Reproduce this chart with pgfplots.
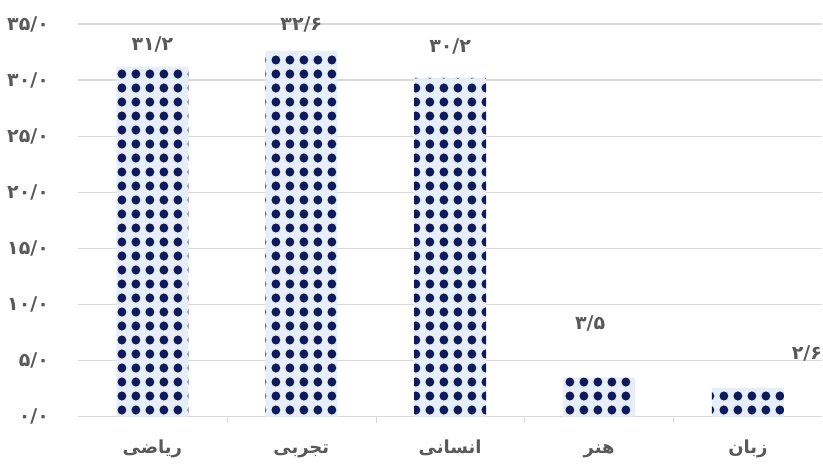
\documentclass[border=0pt]{standalone}
\usepackage{pgfplots}
\pgfplotsset{compat=1.18}
\usepackage{fontspec}
\setmainfont{DejaVu Sans}
\newfontfamily\fa[Script=Arabic]{DejaVu Sans}
\TeXXeTstate=1
\usetikzlibrary{patterns}
\definecolor{txtgray}{HTML}{595959}
\definecolor{gridgray}{HTML}{D9D9D9}
\definecolor{dotnavy}{HTML}{0E1A5A}
\definecolor{bgblue}{HTML}{E6EEF8}
\pgfdeclarepatternformonly{bigdots}{\pgfpointorigin}{\pgfqpoint{7.2pt}{7pt}}{\pgfqpoint{7.2pt}{7pt}}{%
  \pgfpathcircle{\pgfqpoint{3.6pt}{3.5pt}}{2.3pt}\pgfusepath{fill}}
\begin{document}
\begin{tikzpicture}
\begin{axis}[
  scale only axis,
  width=372.5pt, height=196.5pt,
  xmin=-0.5, xmax=4.5,
  ymin=0, ymax=35,
  separate axis lines,
  axis x line*=bottom,
  axis y line*=left,
  y axis line style={draw=none},
  x axis line style={gridgray, line width=0.6pt},
  ytick={0,5,10,15,20,25,30,35},
  yticklabels={۰/۰,۵/۰,۱۰/۰,۱۵/۰,۲۰/۰,۲۵/۰,۳۰/۰,۳۵/۰},
  ymajorgrids,
  grid style={gridgray, line width=0.6pt},
  major tick length=0pt,
  yticklabel style={font=\fa\bfseries\fontsize{9.5}{11}\selectfont, text=txtgray, xshift=-11pt},
  xtick={0,1,2,3,4},
  xticklabels={\beginR ریاضی\endR,\beginR تجربی\endR,\beginR انسانی\endR,\beginR هنر\endR,\beginR زبان\endR},
  xticklabel style={font=\fa\bfseries\fontsize{9}{11}\selectfont, text=txtgray, text height=7pt, text depth=3pt, yshift=-8pt},
  extra x ticks={0.5,1.5,2.5,3.5},
  extra x tick labels={},
  extra x tick style={major tick length=3pt, tick style={gridgray}, xtick pos=bottom, tick align=outside, grid=none},
  clip=false,
]
\addplot[ybar, bar width=36pt, draw=none, fill=bgblue,
  postaction={pattern=bigdots, pattern color=dotnavy}]
  coordinates {(0,31.2) (1,32.6) (2,30.2) (3,3.5) (4,2.6)};
\node[font=\fa\bfseries\fontsize{9.5}{11}\selectfont, text=txtgray] at (axis cs:0,33.2) {۳۱/۲};
\node[font=\fa\bfseries\fontsize{9.5}{11}\selectfont, text=txtgray] at (axis cs:1,35.0) {۳۲/۶};
\node[font=\fa\bfseries\fontsize{9.5}{11}\selectfont, text=txtgray] at (axis cs:2,33.0) {۳۰/۲};
\node[font=\fa\bfseries\fontsize{9.5}{11}\selectfont, text=txtgray] at (axis cs:2.94,8.3) {۳/۵};
\node[font=\fa\bfseries\fontsize{9.5}{11}\selectfont, text=txtgray, anchor=east, inner sep=0pt] at (axis cs:4.5,5.6) {۲/۶};
\path (axis description cs:0,1) ++(-39pt,12pt);
\path (axis description cs:0,0) ++(-39pt,-24pt);
\end{axis}
\end{tikzpicture}
\end{document}
